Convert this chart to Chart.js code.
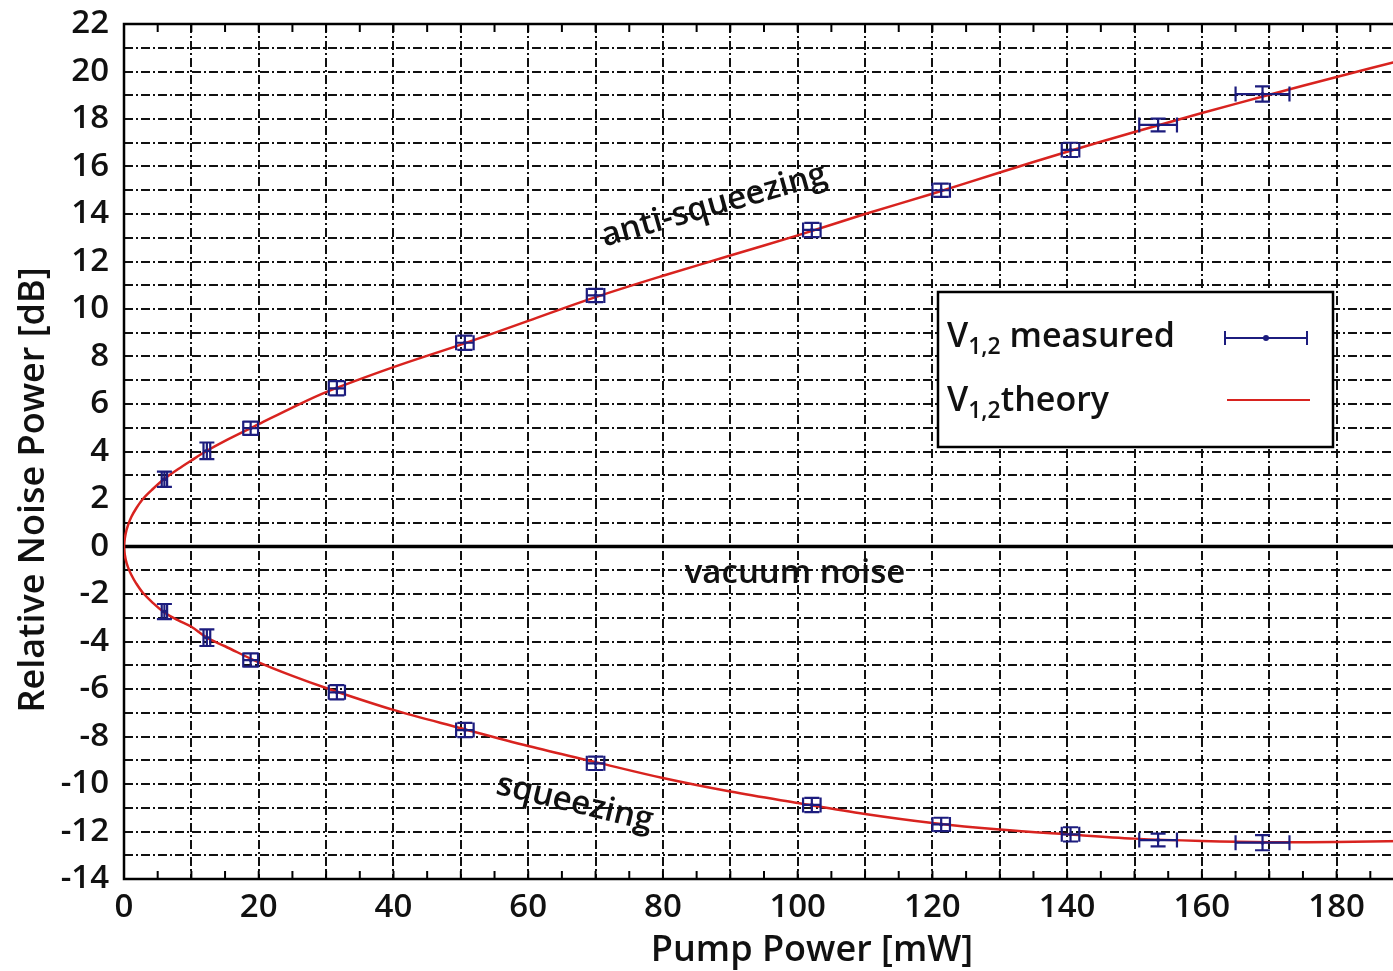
<!DOCTYPE html>
<html>
<head>
<meta charset="utf-8">
<script src="https://cdn.jsdelivr.net/npm/chart.js@4.4.1/dist/chart.umd.min.js"></script>
<style>
  html, body { margin: 0; padding: 0; background: #fff; overflow: hidden; }
  #wrap { width: 1410px; height: 971px; }
</style>
</head>
<body>
<div id="wrap"><canvas id="myChart" width="1410" height="971"></canvas></div>
<script>
// MEASURED POINTS (pump power in mW, noise in dB)
const pumpPower = [6.0, 12.3, 18.8, 31.6, 50.6, 70.0, 102.1, 121.3, 140.5, 153.5, 169.0];
const pumpPowerErr = [0.4, 0.5, 1.1, 1.2, 1.3, 1.3, 1.3, 1.3, 1.3, 2.8, 4.0];
const antiSqueezing = [2.83, 4.03, 4.98, 6.66, 8.58, 10.57, 13.33, 15.0, 16.7, 17.75, 19.05];
const squeezing = [-2.74, -3.84, -4.78, -6.14, -7.73, -9.13, -10.88, -11.7, -12.12, -12.36, -12.47];
const noiseErr = [0.32, 0.35, 0.28, 0.3, 0.3, 0.28, 0.3, 0.28, 0.3, 0.27, 0.32];

// THEORY CURVE
const theoryPower = [0, 0.25, 0.6, 1.1, 1.8, 2.8, 4.2, 6, 8, 10, 12.3, 15, 20, 25, 30, 40, 50, 60, 70, 80, 90, 100, 110, 120, 130, 140, 150, 160, 170, 180, 190];
const theoryAnti = [0, 0.55, 0.9, 1.25, 1.6, 2.0, 2.4, 2.85, 3.25, 3.62, 4.03, 4.45, 5.15, 5.85, 6.5, 7.55, 8.5, 9.5, 10.5, 11.4, 12.25, 13.1, 14.0, 14.85, 15.75, 16.62, 17.45, 18.25, 19.02, 19.77, 20.5];
const theorySqz = [0, -0.55, -0.88, -1.2, -1.55, -1.95, -2.35, -2.78, -3.1, -3.38, -3.84, -4.2, -4.88, -5.45, -5.96, -6.88, -7.65, -8.4, -9.08, -9.75, -10.32, -10.8, -11.26, -11.64, -11.92, -12.12, -12.3, -12.4, -12.45, -12.44, -12.4];

// TICK LABELS
const xTickLabels = [0, 20, 40, 60, 80, 100, 120, 140, 160, 180];
const yTickLabels = [-14, -12, -10, -8, -6, -4, -2, 0, 2, 4, 6, 8, 10, 12, 14, 16, 18, 20, 22];

const FONT = "'Open Sans', 'Noto Sans', sans-serif";
const NAVY = '#1c1c7e';
const RED = '#d8231f';
const GRID = '#111';
const DASH = [9, 3, 2, 3];

// one path: squeezing branch back to the origin, then anti-squeezing branch
const theoryData = theoryPower.map((p, i) => ({ x: p, y: theorySqz[i] })).reverse()
  .concat(theoryPower.slice(1).map((p, i) => ({ x: p, y: theoryAnti[i + 1] })));

const measured = vals => pumpPower.map((p, i) => ({ x: p, y: vals[i], xe: pumpPowerErr[i], ye: noiseErr[i] }));

// error bars with caps (gives the little boxed crosses)
const errorBars = {
  id: 'errorBars',
  afterDatasetsDraw(chart) {
    const { ctx, scales: { x, y } } = chart;
    const cap = 7.5;
    ctx.save();
    ctx.strokeStyle = NAVY;
    ctx.lineWidth = 2.2;
    chart.data.datasets.forEach(ds => {
      if (!ds.errorBars) return;
      ds.data.forEach(d => {
        const px = x.getPixelForValue(d.x), py = y.getPixelForValue(d.y);
        const x0 = x.getPixelForValue(d.x - d.xe), x1 = x.getPixelForValue(d.x + d.xe);
        const y0 = y.getPixelForValue(d.y - d.ye), y1 = y.getPixelForValue(d.y + d.ye);
        ctx.beginPath();
        ctx.moveTo(x0, py); ctx.lineTo(x1, py);
        ctx.moveTo(x0, py - cap); ctx.lineTo(x0, py + cap);
        ctx.moveTo(x1, py - cap); ctx.lineTo(x1, py + cap);
        ctx.moveTo(px, y0); ctx.lineTo(px, y1);
        ctx.moveTo(px - cap, y0); ctx.lineTo(px + cap, y0);
        ctx.moveTo(px - cap, y1); ctx.lineTo(px + cap, y1);
        ctx.stroke();
      });
    });
    ctx.restore();
  }
};

// frame, zero line and inward tick marks
const frame = {
  id: 'frame',
  beforeDatasetsDraw(chart) {
    const { ctx, chartArea: a, scales: { x, y } } = chart;
    ctx.save();
    ctx.strokeStyle = '#000';
    ctx.lineWidth = 2;
    ctx.beginPath();
    x.ticks.forEach(t => {
      const px = x.getPixelForValue(t.value);
      ctx.moveTo(px, a.bottom); ctx.lineTo(px, a.bottom - 8);
      ctx.moveTo(px, a.top); ctx.lineTo(px, a.top + 8);
    });
    ctx.stroke();
    ctx.lineWidth = 2.5;
    ctx.beginPath();
    ctx.moveTo(a.right, a.top); ctx.lineTo(a.left, a.top);
    ctx.lineTo(a.left, a.bottom); ctx.lineTo(a.right, a.bottom);
    ctx.stroke();
    ctx.lineWidth = 3.5;
    const zy = y.getPixelForValue(0);
    ctx.beginPath();
    ctx.moveTo(a.left, zy); ctx.lineTo(a.right, zy);
    ctx.stroke();
    ctx.restore();
  }
};

function drawSubLabel(ctx, x, y, sub, rest) {
  ctx.font = '600 34px ' + FONT;
  ctx.fillText('V', x, y);
  let cx = x + ctx.measureText('V').width;
  ctx.font = '600 23px ' + FONT;
  ctx.fillText(sub, cx, y + 7);
  cx += ctx.measureText(sub).width;
  ctx.font = '600 34px ' + FONT;
  ctx.fillText(rest, cx, y);
}

// titles, annotations and legend
const labels = {
  id: 'labels',
  afterDraw(chart) {
    const { ctx, scales: { x, y } } = chart;
    ctx.save();
    ctx.fillStyle = '#111';
    ctx.textAlign = 'center';
    ctx.textBaseline = 'alphabetic';
    ctx.font = '600 36px ' + FONT;
    ctx.fillText('Pump Power [mW]', 812, 961);
    ctx.save();
    ctx.translate(44, 490);
    ctx.rotate(-Math.PI / 2);
    ctx.fillText('Relative Noise Power [dB]', 0, 0);
    ctx.restore();

    ctx.textBaseline = 'middle';
    ctx.font = '600 33px ' + FONT;
    ctx.save();
    ctx.translate(x.getPixelForValue(87.6), y.getPixelForValue(14.35));
    ctx.rotate(-15.8 * Math.PI / 180);
    ctx.fillText('anti-squeezing', 0, 0);
    ctx.restore();
    ctx.save();
    ctx.translate(x.getPixelForValue(66.9), y.getPixelForValue(-10.8));
    ctx.rotate(13.5 * Math.PI / 180);
    ctx.fillText('squeezing', 0, 0);
    ctx.restore();
    ctx.fillText('vacuum noise', x.getPixelForValue(99.6), y.getPixelForValue(-1.15));

    // legend box
    ctx.fillStyle = '#fff';
    ctx.fillRect(938, 292, 395, 155);
    ctx.strokeStyle = '#000';
    ctx.lineWidth = 2.5;
    ctx.strokeRect(938, 292, 395, 155);
    ctx.fillStyle = '#111';
    ctx.textAlign = 'left';
    ctx.textBaseline = 'alphabetic';
    drawSubLabel(ctx, 947, 347, '1,2', ' measured');
    drawSubLabel(ctx, 947, 411, '1,2', 'theory');

    ctx.strokeStyle = NAVY;
    ctx.lineWidth = 2;
    ctx.beginPath();
    ctx.moveTo(1225, 338); ctx.lineTo(1307, 338);
    ctx.moveTo(1225, 331); ctx.lineTo(1225, 345);
    ctx.moveTo(1307, 331); ctx.lineTo(1307, 345);
    ctx.stroke();
    ctx.fillStyle = NAVY;
    ctx.beginPath();
    ctx.arc(1266, 338, 3, 0, Math.PI * 2);
    ctx.fill();
    ctx.strokeStyle = RED;
    ctx.beginPath();
    ctx.moveTo(1227, 400); ctx.lineTo(1310, 400);
    ctx.stroke();
    ctx.restore();
  }
};

const ctx = document.getElementById('myChart');

new Chart(ctx, {
  type: 'scatter',
  data: {
    datasets: [
      {
        label: 'V1,2 theory',
        data: theoryData,
        showLine: true,
        borderColor: RED,
        borderWidth: 2.5,
        pointRadius: 0,
        tension: 0.35
      },
      {
        label: 'V1,2 measured',
        data: measured(antiSqueezing),
        errorBars: true,
        pointRadius: 2,
        pointBackgroundColor: NAVY,
        pointBorderWidth: 0
      },
      {
        label: 'V1,2 measured (squeezing)',
        data: measured(squeezing),
        errorBars: true,
        pointRadius: 2,
        pointBackgroundColor: NAVY,
        pointBorderWidth: 0
      }
    ]
  },
  options: {
    responsive: false,
    animation: false,
    layout: { padding: { top: 24, right: 6, left: 0, bottom: 0 } },
    plugins: { legend: { display: false }, tooltip: { enabled: false } },
    scales: {
      x: {
        type: 'linear',
        min: 0,
        max: 190,
        afterFit: s => { s.height = 92; s.paddingLeft = 0; s.paddingRight = 0; },
        border: { display: false, dash: DASH },
        grid: {
          drawTicks: false,
          lineWidth: 2,
          color: c => (c.tick && c.tick.value % 10 === 0 && c.tick.value !== 0) ? GRID : 'rgba(0,0,0,0)'
        },
        ticks: {
          stepSize: 5,
          padding: 9,
          maxRotation: 0,
          autoSkip: false,
          color: '#111',
          font: { family: FONT, size: 33, weight: '600' },
          callback: v => xTickLabels.includes(v) ? String(v) : ''
        }
      },
      y: {
        type: 'linear',
        min: -14,
        max: 22,
        afterFit: s => { s.width = 124; s.paddingTop = 0; s.paddingBottom = 0; },
        border: { display: false, dash: DASH },
        grid: {
          drawTicks: false,
          lineWidth: 2,
          color: c => (c.tick && [0, 22, -14].includes(c.tick.value)) ? 'rgba(0,0,0,0)' : GRID
        },
        ticks: {
          stepSize: 1,
          padding: 15,
          autoSkip: false,
          color: '#111',
          font: { family: FONT, size: 33, weight: '600' },
          callback: v => yTickLabels.includes(v) ? String(v) : ''
        }
      }
    }
  },
  plugins: [frame, errorBars, labels]
});
</script>
</body>
</html>
